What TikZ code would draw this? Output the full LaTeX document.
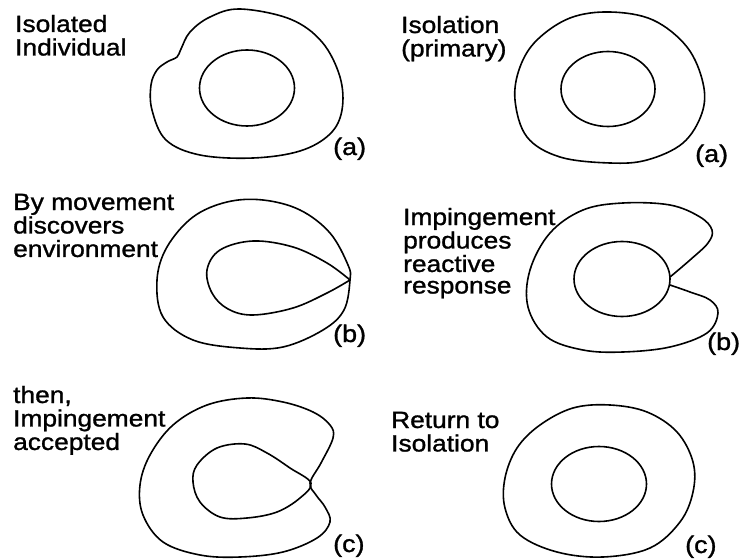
\documentclass[tikz,border=0pt]{standalone}
\usepackage{fontspec}
\setmainfont{Liberation Sans}
\newfontfamily\lblfont[FakeStretch=1.12,FakeBold=1.2]{Liberation Sans}
\begin{document}
\begin{tikzpicture}[x=1pt,y=-1pt,
  curve/.style={line width=1.6pt, line join=round, line cap=round},
  lbl/.style={anchor=base west, inner sep=0pt, font=\lblfont\fontsize{23.5}{21.5}\selectfont},
  tag/.style={anchor=base west, inner sep=0pt, font=\lblfont\fontsize{24}{24}\selectfont}]
\useasboundingbox (0,0) rectangle (739,559);
% ---------- panel 1 : isolated individual ----------
\draw[curve] plot[smooth cycle, tension=0.6] coordinates {(240,9) (290,19) (322,42) (340,77) (342,110) (330,134) (300,151) (253,158) (200,155) (166,140) (152,110) (151,85) (157,70) (167,62) (177,57) (181,49) (190,32) (210,17)};
\draw[curve] (247,88) ellipse [x radius=47.5, y radius=38];
\node[lbl] (t1) at (15,32) {\begin{tabular}[t]{@{}l@{}}Isolated\\Individual\end{tabular}};
\node[tag] (a1) at (333,155) {(a)};
% ---------- panel 2 : isolation (primary) ----------
\draw[curve] plot[smooth cycle, tension=0.6] coordinates {(610,12) (653,20) (687,47) (703,83) (702,113) (683,143) (647,160) (610,163) (560,157) (527,137) (515,100) (520,67) (537,40) (570,18)};
\draw[curve] (608,89) ellipse [x radius=47, y radius=37.5];
\node[lbl] (t2) at (401,33) {\begin{tabular}[t]{@{}l@{}}Isolation\\(primary)\end{tabular}};
\node[tag] (a2) at (695,162) {(a)};
% ---------- panel 3 : by movement discovers environment ----------
\draw[curve] plot[smooth cycle, tension=0.6] coordinates {(263,200) (300,210) (330,233) (348,265) (350,280) (344,310) (323,330) (283,347) (240,348) (193,340) (163,317) (157,280) (167,247) (193,217) (227,202)};
\draw[curve] plot[smooth, tension=0.6] coordinates {(350,280) (327,263) (293,247) (253,241) (220,250) (207,270) (212,293) (228,309) (253,315) (293,308) (327,293) (350,280)};
\node[lbl] (t3) at (13,210) {\begin{tabular}[t]{@{}l@{}}By movement\\discovers\\environment\end{tabular}};
\node[tag] (b3) at (333,342) {(b)};
% ---------- panel 4 : impingement produces reactive response ----------
\draw[curve] (622,279) ellipse [x radius=48, y radius=37.5];
\draw[curve] plot[smooth, tension=0.6] coordinates {(670,277) (690,260) (708,243) (712,230) (700,217) (670,205) (623,203) (583,210) (550,233) (530,270) (528,307) (547,337) (583,350) (623,352) (670,347) (707,333) (718,313) (710,300) (690,292) (670,285)};
\node[lbl] (t4) at (403,225) {\begin{tabular}[t]{@{}l@{}}Impingement\\produces\\reactive\\response\end{tabular}};
\node[tag] (b4) at (707,350) {(b)};
% ---------- panel 5 : then, impingement accepted ----------
\draw[curve] plot[smooth cycle, tension=0.6] coordinates {(310,483) (321,463) (333,438) (330,425) (313,412) (283,402) (247,398) (207,405) (173,425) (150,455) (140,485) (143,515) (163,542) (200,555) (240,557) (283,552) (317,538) (330,522) (325,507) (316,495)};
\draw[curve] plot[smooth cycle, tension=0.6] coordinates {(311,483) (290,468) (267,453) (245,444) (217,448) (197,465) (193,482) (200,502) (220,517) (247,518) (277,512) (300,498)};
\node[lbl] (t5) at (13,403) {\begin{tabular}[t]{@{}l@{}}then,\\Impingement\\accepted\end{tabular}};
\node[tag] (c5) at (333,552) {(c)};
% ---------- panel 6 : return to isolation ----------
\draw[curve] plot[smooth cycle, tension=0.6] coordinates {(610,405) (647,412) (677,432) (693,462) (693,492) (680,522) (650,548) (603,557) (557,552) (520,535) (505,508) (505,478) (517,448) (540,425) (573,408)};
\draw[curve] (599,484) ellipse [x radius=47.5, y radius=37.5];
\node[lbl] (t6) at (391,428) {\begin{tabular}[t]{@{}l@{}}Return to\\Isolation\end{tabular}};
\node[tag] (c6) at (685,553) {(c)};
\end{tikzpicture}
\end{document}
